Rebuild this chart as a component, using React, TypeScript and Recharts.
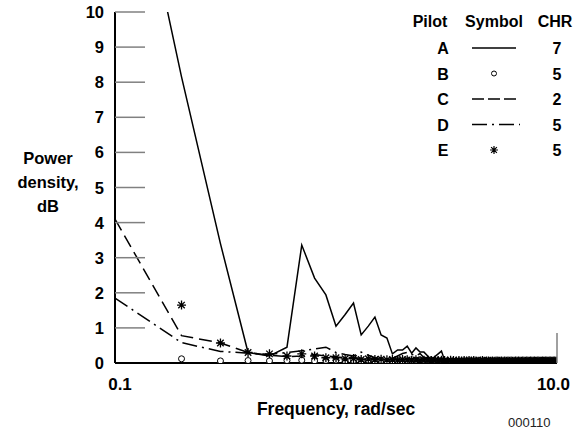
import React from 'react'
import { ComposedChart, Line, XAxis, YAxis } from 'recharts'

// frequency bins, rad/sec
const freqs = [
  0.1, 0.2, 0.3, 0.4, 0.5, 0.6, 0.7, 0.8, 0.9, 1.0,
  1.1, 1.2, 1.3, 1.4, 1.5, 1.6, 1.7, 1.8, 1.9, 2.0,
  2.1, 2.2, 2.3, 2.4, 2.5, 2.6, 2.7, 2.8, 2.9, 3.0,
  3.1, 3.2, 3.3, 3.4, 3.5, 3.6, 3.7, 3.8, 3.9, 4.0,
  4.1, 4.2, 4.3, 4.4, 4.5, 4.6, 4.7, 4.8, 4.9, 5.0,
  5.1, 5.2, 5.3, 5.4, 5.5, 5.6, 5.7, 5.8, 5.9, 6.0,
  6.1, 6.2, 6.3, 6.4, 6.5, 6.6, 6.7, 6.8, 6.9, 7.0,
  7.1, 7.2, 7.3, 7.4, 7.5, 7.6, 7.7, 7.8, 7.9, 8.0,
  8.1, 8.2, 8.3, 8.4, 8.5, 8.6, 8.7, 8.8, 8.9, 9.0,
  9.1, 9.2, 9.3, 9.4, 9.5, 9.6, 9.7, 9.8, 9.9, 10.0,
]

const pilotA = [
  17, 8.15, 3.4, 0.3, 0.2, 0.45, 3.36, 2.42, 1.94, 1.05,
  1.38, 1.71, 0.8, 1.05, 1.31, 0.8, 0.71, 0.26, 0.37, 0.37,
  0.48, 0.28, 0.43, 0.31, 0.31, 0.2, 0.1, 0.18, 0.26, 0.34,
  0.08, 0.06, 0.05, 0.07, 0.04, 0.06, 0.05, 0.04, 0.06, 0.05,
  0.04, 0.05, 0.06, 0.04, 0.05, 0.03, 0.05, 0.04, 0.06, 0.04,
  0.05, 0.04, 0.03, 0.05, 0.04, 0.05, 0.03, 0.04, 0.05, 0.04,
  0.03, 0.04, 0.05, 0.03, 0.04, 0.04, 0.03, 0.05, 0.04, 0.03,
  0.04, 0.03, 0.04, 0.05, 0.03, 0.04, 0.03, 0.04, 0.03, 0.04,
  0.03, 0.04, 0.03, 0.03, 0.04, 0.03, 0.04, 0.03, 0.03, 0.04,
  0.03, 0.03, 0.04, 0.03, 0.03, 0.04, 0.03, 0.03, 0.03, 0.04,
]

const pilotB = [
  null, 0.12, 0.06, 0.07, 0.06, 0.07, 0.08, 0.06, 0.07, 0.08,
  0.06, 0.07, 0.06, 0.08, 0.06, 0.07, 0.05, 0.06, 0.07, 0.05,
  0.06, 0.05, 0.07, 0.06, 0.05, 0.06, 0.05, 0.06, 0.05, 0.06,
  0.05, 0.06, 0.05, 0.04, 0.06, 0.05, 0.04, 0.05, 0.06, 0.05,
  0.04, 0.05, 0.05, 0.04, 0.06, 0.05, 0.04, 0.05, 0.04, 0.05,
  0.05, 0.04, 0.05, 0.06, 0.04, 0.05, 0.04, 0.05, 0.05, 0.04,
  0.05, 0.04, 0.05, 0.04, 0.05, 0.05, 0.04, 0.05, 0.04, 0.05,
  0.04, 0.05, 0.04, 0.05, 0.04, 0.05, 0.04, 0.04, 0.05, 0.04,
  0.05, 0.04, 0.05, 0.04, 0.04, 0.05, 0.04, 0.05, 0.04, 0.04,
  0.05, 0.04, 0.04, 0.05, 0.04, 0.04, 0.05, 0.04, 0.04, 0.05,
]

const pilotC = [
  4.1, 0.78, 0.57, 0.3, 0.22, 0.18, 0.2, 0.24, 0.2, 0.17,
  0.15, 0.16, 0.13, 0.14, 0.12, 0.13, 0.1, 0.12, 0.1, 0.11,
  0.09, 0.1, 0.12, 0.09, 0.1, 0.08, 0.09, 0.1, 0.08, 0.07,
  0.08, 0.07, 0.08, 0.06, 0.07, 0.08, 0.06, 0.07, 0.06, 0.07,
  0.06, 0.07, 0.05, 0.06, 0.07, 0.05, 0.06, 0.05, 0.06, 0.05,
  0.06, 0.05, 0.06, 0.05, 0.05, 0.06, 0.05, 0.04, 0.05, 0.06,
  0.05, 0.04, 0.05, 0.05, 0.04, 0.05, 0.04, 0.05, 0.05, 0.04,
  0.05, 0.04, 0.05, 0.04, 0.05, 0.04, 0.04, 0.05, 0.04, 0.05,
  0.04, 0.04, 0.05, 0.04, 0.04, 0.05, 0.04, 0.04, 0.05, 0.04,
  0.04, 0.05, 0.04, 0.04, 0.04, 0.05, 0.04, 0.04, 0.04, 0.05,
]

const pilotD = [
  1.85, 0.58, 0.33, 0.28, 0.25, 0.3, 0.35, 0.4, 0.45, 0.3,
  0.24, 0.2, 0.31, 0.22, 0.15, 0.12, 0.1, 0.13, 0.2, 0.27,
  0.3, 0.25, 0.2, 0.27, 0.15, 0.1, 0.09, 0.08, 0.09, 0.07,
  0.08, 0.07, 0.06, 0.07, 0.08, 0.06, 0.07, 0.06, 0.05, 0.07,
  0.06, 0.05, 0.06, 0.07, 0.05, 0.06, 0.05, 0.06, 0.05, 0.06,
  0.05, 0.06, 0.05, 0.04, 0.06, 0.05, 0.05, 0.06, 0.04, 0.05,
  0.05, 0.04, 0.05, 0.06, 0.04, 0.05, 0.05, 0.04, 0.05, 0.05,
  0.04, 0.05, 0.05, 0.04, 0.05, 0.04, 0.05, 0.04, 0.05, 0.04,
  0.05, 0.04, 0.04, 0.05, 0.04, 0.05, 0.04, 0.04, 0.05, 0.04,
  0.04, 0.05, 0.04, 0.05, 0.04, 0.04, 0.05, 0.04, 0.04, 0.04,
]

const pilotE = [
  null, 1.65, 0.57, 0.3, 0.26, 0.2, 0.26, 0.2, 0.15, 0.15,
  0.12, 0.13, 0.1, 0.12, 0.1, 0.11, 0.09, 0.1, 0.08, 0.1,
  0.09, 0.08, 0.09, 0.07, 0.08, 0.09, 0.07, 0.08, 0.07, 0.08,
  0.07, 0.06, 0.08, 0.07, 0.06, 0.07, 0.06, 0.07, 0.06, 0.07,
  0.06, 0.07, 0.06, 0.05, 0.06, 0.07, 0.05, 0.06, 0.06, 0.05,
  0.06, 0.05, 0.06, 0.06, 0.05, 0.06, 0.05, 0.06, 0.05, 0.06,
  0.05, 0.06, 0.05, 0.05, 0.06, 0.05, 0.06, 0.05, 0.05, 0.06,
  0.05, 0.05, 0.06, 0.05, 0.05, 0.06, 0.05, 0.05, 0.06, 0.05,
  0.05, 0.06, 0.05, 0.05, 0.05, 0.06, 0.05, 0.05, 0.06, 0.05,
  0.05, 0.05, 0.06, 0.05, 0.05, 0.05, 0.06, 0.05, 0.05, 0.05,
]

const yTicks = [0, 1, 2, 3, 4, 5, 6, 7, 8, 9, 10]
const xTicks = [0.1, 1, 10]
const xTickLabels = ['0.1', '1.0', '10.0']

const legendPilots = ['A', 'B', 'C', 'D', 'E']
const legendChr = ['7', '5', '2', '5', '5']

const data = freqs.map((f, i) => ({
  f,
  a: pilotA[i],
  b: pilotB[i],
  c: pilotC[i],
  d: pilotD[i],
  e: pilotE[i],
}))

const FONT = '"Liberation Sans", Arial, sans-serif'
const AXIS_X = 115
const AXIS_Y = 363

const YTick = ({ x, y, payload }: any) => (
  <g>
    {payload.value > 0 && (
      <line x1={AXIS_X} x2={AXIS_X + 30} y1={y} y2={y} stroke="#808080" strokeWidth={1.5} />
    )}
    <text x={x} y={y} dy={6} textAnchor="end" fontFamily={FONT} fontWeight="bold" fontSize={16.5} fill="#000">
      {payload.value}
    </text>
  </g>
)

const XTick = ({ x, payload, index }: any) => {
  const last = payload.value >= 10
  return (
    <g>
      {last && <line x1={x} x2={x} y1={AXIS_Y} y2={AXIS_Y - 30} stroke="#808080" strokeWidth={1.5} />}
      <text
        x={last ? x + 13 : x + 5}
        y={AXIS_Y + 27}
        textAnchor={last ? 'end' : 'middle'}
        fontFamily={FONT}
        fontWeight="bold"
        fontSize={17}
        fill="#000"
      >
        {xTickLabels[index] ?? payload.value}
      </text>
    </g>
  )
}

const CircleDot = ({ cx, cy, value, index }: any) => {
  if (value == null || cx == null) return <g key={index} />
  return <circle key={index} cx={cx} cy={cy} r={3} fill="#fff" stroke="#000" strokeWidth={1} />
}

const starPath = (cx: number, cy: number, r: number) => {
  const d = r * 0.72
  return `M${cx - r},${cy}H${cx + r}M${cx},${cy - r}V${cy + r}M${cx - d},${cy - d}L${cx + d},${cy + d}M${cx - d},${cy + d}L${cx + d},${cy - d}`
}

const StarDot = ({ cx, cy, value, index }: any) => {
  if (value == null || cx == null) return <g key={index} />
  return <path key={index} d={starPath(cx, cy, 4.5)} stroke="#000" strokeWidth={1.3} fill="none" />
}

const textStyle = { fontFamily: FONT, fontWeight: 'bold' as const, fontSize: 16, fill: '#000' }

function LegendTable() {
  const rowY = (i: number) => 48 + i * 25.5
  return (
    <svg width={573} height={433} style={{ position: 'absolute', left: 0, top: 0, pointerEvents: 'none' }}>
      <text x={430} y={27} textAnchor="middle" {...textStyle}>Pilot</text>
      <text x={494} y={27} textAnchor="middle" {...textStyle}>Symbol</text>
      <text x={555} y={27} textAnchor="middle" {...textStyle}>CHR</text>
      {legendPilots.map((p, i) => {
        const y = rowY(i)
        return (
          <g key={p}>
            <text x={443} y={y + 6} textAnchor="middle" {...textStyle}>{p}</text>
            <text x={557} y={y + 6} textAnchor="middle" {...textStyle}>{legendChr[i]}</text>
          </g>
        )
      })}
      <line x1={472} x2={516} y1={rowY(0)} y2={rowY(0)} stroke="#000" strokeWidth={1.5} />
      <circle cx={494} cy={rowY(1)} r={2.5} fill="#fff" stroke="#000" strokeWidth={1} />
      <line x1={472} x2={516} y1={rowY(2)} y2={rowY(2)} stroke="#000" strokeWidth={1.5} strokeDasharray="12 4" />
      <line x1={472} x2={520} y1={rowY(3)} y2={rowY(3)} stroke="#000" strokeWidth={1.5} strokeDasharray="15 5 2 5" />
      <path d={starPath(494, rowY(4), 4)} stroke="#000" strokeWidth={1.2} fill="none" />
    </svg>
  )
}

export default function App() {
  return (
    <div style={{ position: 'absolute', left: 0, top: 0, width: 573, height: 433, background: '#fff' }}>
      <ComposedChart width={573} height={433} data={data} margin={{ top: 12, right: 16, left: 0, bottom: 0 }}>
        <XAxis
          dataKey="f"
          type="number"
          scale="log"
          domain={[0.1, 10]}
          ticks={xTicks}
          tick={<XTick />}
          tickLine={false}
          axisLine={{ stroke: '#000', strokeWidth: 2 }}
          height={70}
          allowDataOverflow
        />
        <YAxis
          type="number"
          domain={[0, 10]}
          ticks={yTicks}
          tick={<YTick />}
          tickLine={false}
          tickSize={0}
          tickMargin={11}
          width={115}
          axisLine={{ stroke: '#000', strokeWidth: 2 }}
          allowDataOverflow
          interval={0}
        />
        <Line dataKey="c" stroke="#000" strokeWidth={1.5} strokeDasharray="13 6" dot={false} isAnimationActive={false} />
        <Line dataKey="d" stroke="#000" strokeWidth={1.5} strokeDasharray="15 5 2 5" dot={false} isAnimationActive={false} />
        <Line dataKey="a" stroke="#000" strokeWidth={1.5} dot={false} isAnimationActive={false} />
        <Line dataKey="b" stroke="none" dot={<CircleDot />} activeDot={false} isAnimationActive={false} />
        <Line dataKey="e" stroke="none" dot={<StarDot />} activeDot={false} isAnimationActive={false} />
      </ComposedChart>
      <LegendTable />
      <div style={{ position: 'absolute', left: 0, top: 146, width: 96, textAlign: 'center', fontFamily: FONT, fontWeight: 'bold', fontSize: 16.5, lineHeight: '24px', color: '#000' }}>
        Power<br />density,<br />dB
      </div>
      <div style={{ position: 'absolute', left: 186, top: 399, width: 300, textAlign: 'center', fontFamily: FONT, fontWeight: 'bold', fontSize: 17.5, color: '#000' }}>
        Frequency, rad/sec
      </div>
      <div style={{ position: 'absolute', left: 508, top: 415, fontFamily: FONT, fontSize: 13, color: '#222' }}>
        000110
      </div>
    </div>
  )
}
